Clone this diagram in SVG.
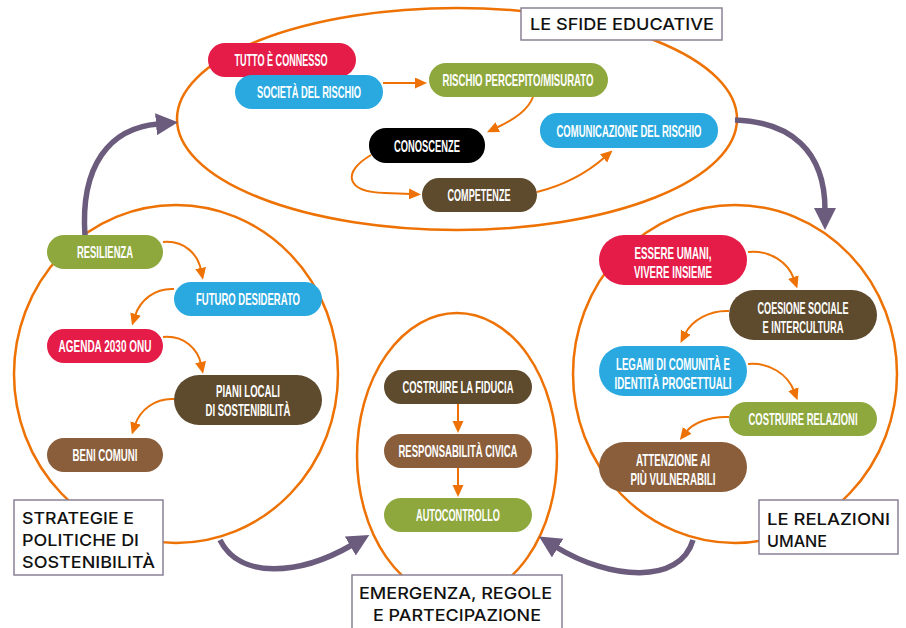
<svg xmlns="http://www.w3.org/2000/svg" width="906" height="628" viewBox="0 0 906 628">
<style>
.ring{fill:none;stroke:#ee7203;stroke-width:2.5}
.oa{fill:none;stroke:#ee7203;stroke-width:2;marker-end:url(#oh)}
.pa{fill:none;stroke:#6b5b7d;stroke-width:5.5;marker-end:url(#ph)}
.nt{font-family:"Liberation Sans",Arial,sans-serif;font-weight:bold;font-size:17px;fill:#fff;text-anchor:middle}
.lb{fill:#fff;stroke:#8b8196;stroke-width:1.5}
.lt{font-family:Inter,"Liberation Sans",Arial,sans-serif;font-size:16.5px;fill:#111;font-weight:500}
.red{fill:#e51b48}.blue{fill:#29a9e0}.green{fill:#8ea83d}.black{fill:#000}.dbr{fill:#5e4a2c}.mbr{fill:#8a5e3b}
</style>
<defs>
<marker id="oh" markerUnits="userSpaceOnUse" markerWidth="14" markerHeight="12" refX="2" refY="5.5" orient="auto"><path d="M0,0 L12,5.5 L0,11 z" fill="#ee7203"/></marker>
<marker id="ph" markerUnits="userSpaceOnUse" markerWidth="24" markerHeight="24" refX="2" refY="11" orient="auto"><path d="M0,0 L22,11 L0,22 z" fill="#6b5b7d"/></marker>
</defs>

<g id="rings">
<ellipse class="ring" cx="457" cy="119" rx="280" ry="111"/>
<ellipse class="ring" cx="176" cy="374" rx="162" ry="169"/>
<ellipse class="ring" cx="735" cy="374" rx="162" ry="169"/>
<ellipse class="ring" cx="457" cy="456" rx="100" ry="143"/>
</g>

<g id="connectors">
<path class="pa" d="M85 236 C80 165 110 128 158 124"/>
<path class="pa" d="M735 120 C790 122 825 150 825 210"/>
<path class="pa" d="M220 540 C240 580 300 575 352 545"/>
<path class="pa" d="M693 540 C680 585 610 580 556 547"/>

<path class="oa" d="M383 83 L417 83"/>
<path class="oa" d="M533 97 C528 110 515 119 496 128"/>
<path class="oa" d="M371 155 C342 172 345 192 385 193 L411 194"/>
<path class="oa" d="M537 192 C565 185 588 172 605 157"/>

<path class="oa" d="M163 242 C185 240 198 255 201 270"/>
<path class="oa" d="M174 289 C155 288 140 300 135 316"/>
<path class="oa" d="M163 337 C185 335 198 350 201 364"/>
<path class="oa" d="M174 399 C155 398 140 410 135 425"/>

<path class="oa" d="M748 252 C770 250 788 262 794 279"/>
<path class="oa" d="M729 311 C710 310 692 320 685 334"/>
<path class="oa" d="M748 364 C770 362 788 375 794 391"/>
<path class="oa" d="M729 417 C710 416 693 423 686 432"/>

<path class="oa" d="M458 404 L458 423"/>
<path class="oa" d="M458 468 L458 487"/>
</g>

<g id="n-tutto"><rect class="red" x="208" y="43" width="148" height="34" rx="17"/><text class="nt" x="281" y="66" textLength="93" lengthAdjust="spacingAndGlyphs">TUTTO È CONNESSO</text></g>
<g id="n-societa"><rect class="blue" x="235" y="75" width="148" height="34" rx="17"/><text class="nt" x="309" y="98" textLength="104" lengthAdjust="spacingAndGlyphs">SOCIETÀ DEL RISCHIO</text></g>
<g id="n-rischio"><rect class="green" x="429" y="63" width="179" height="34" rx="17"/><text class="nt" x="518" y="86" textLength="151" lengthAdjust="spacingAndGlyphs">RISCHIO PERCEPITO/MISURATO</text></g>
<g id="n-conoscenze"><rect class="black" x="369" y="128" width="116" height="35" rx="17"/><text class="nt" x="427" y="152" textLength="66" lengthAdjust="spacingAndGlyphs">CONOSCENZE</text></g>
<g id="n-comunicazione"><rect class="blue" x="540" y="113" width="178" height="35" rx="17"/><text class="nt" x="629" y="137" textLength="145" lengthAdjust="spacingAndGlyphs">COMUNICAZIONE DEL RISCHIO</text></g>
<g id="n-competenze"><rect class="dbr" x="422" y="178" width="115" height="34" rx="17"/><text class="nt" x="479" y="201" textLength="63" lengthAdjust="spacingAndGlyphs">COMPETENZE</text></g>

<g id="n-resilienza"><rect class="green" x="47" y="235" width="116" height="34" rx="17"/><text class="nt" x="105" y="258" textLength="56" lengthAdjust="spacingAndGlyphs">RESILIENZA</text></g>
<g id="n-futuro"><rect class="blue" x="174" y="282" width="148" height="34" rx="17"/><text class="nt" x="248" y="305" textLength="104" lengthAdjust="spacingAndGlyphs">FUTURO DESIDERATO</text></g>
<g id="n-agenda"><rect class="red" x="47" y="329" width="116" height="34" rx="17"/><text class="nt" x="105" y="352" textLength="93" lengthAdjust="spacingAndGlyphs">AGENDA 2030 ONU</text></g>
<g id="n-piani"><rect class="dbr" x="174" y="375" width="148" height="50" rx="25"/><text class="nt" x="248" y="397" textLength="64" lengthAdjust="spacingAndGlyphs">PIANI LOCALI</text><text class="nt" x="248" y="416" textLength="85" lengthAdjust="spacingAndGlyphs">DI SOSTENIBILITÀ</text></g>
<g id="n-beni"><rect class="mbr" x="47" y="438" width="116" height="34" rx="17"/><text class="nt" x="105" y="461" textLength="65" lengthAdjust="spacingAndGlyphs">BENI COMUNI</text></g>

<g id="n-essere"><rect class="red" x="599" y="235" width="148" height="50" rx="25"/><text class="nt" x="673" y="259" textLength="77" lengthAdjust="spacingAndGlyphs">ESSERE UMANI,</text><text class="nt" x="673" y="278" textLength="78" lengthAdjust="spacingAndGlyphs">VIVERE INSIEME</text></g>
<g id="n-coesione"><rect class="dbr" x="729" y="290" width="148" height="50" rx="25"/><text class="nt" x="803" y="314" textLength="91" lengthAdjust="spacingAndGlyphs">COESIONE SOCIALE</text><text class="nt" x="803" y="333" textLength="81" lengthAdjust="spacingAndGlyphs">E INTERCULTURA</text></g>
<g id="n-legami"><rect class="blue" x="599" y="346" width="148" height="50" rx="25"/><text class="nt" x="673" y="370" textLength="114" lengthAdjust="spacingAndGlyphs">LEGAMI DI COMUNITÀ E</text><text class="nt" x="673" y="389" textLength="117" lengthAdjust="spacingAndGlyphs">IDENTITÀ PROGETTUALI</text></g>
<g id="n-costruire-rel"><rect class="green" x="729" y="402" width="148" height="34" rx="17"/><text class="nt" x="803" y="425" textLength="109" lengthAdjust="spacingAndGlyphs">COSTRUIRE RELAZIONI</text></g>
<g id="n-attenzione"><rect class="mbr" x="599" y="442" width="148" height="50" rx="25"/><text class="nt" x="673" y="466" textLength="74" lengthAdjust="spacingAndGlyphs">ATTENZIONE AI</text><text class="nt" x="673" y="485" textLength="85" lengthAdjust="spacingAndGlyphs">PIÙ VULNERABILI</text></g>

<g id="n-fiducia"><rect class="dbr" x="384" y="370" width="148" height="34" rx="17"/><text class="nt" x="458" y="393" textLength="111" lengthAdjust="spacingAndGlyphs">COSTRUIRE LA FIDUCIA</text></g>
<g id="n-responsabilita"><rect class="mbr" x="384" y="434" width="148" height="34" rx="17"/><text class="nt" x="458" y="457" textLength="119" lengthAdjust="spacingAndGlyphs">RESPONSABILITÀ CIVICA</text></g>
<g id="n-autocontrollo"><rect class="green" x="384" y="498" width="148" height="34" rx="17"/><text class="nt" x="458" y="521" textLength="84" lengthAdjust="spacingAndGlyphs">AUTOCONTROLLO</text></g>

<g id="l-sfide"><rect class="lb" x="521" y="8" width="201" height="32"/><text class="lt" x="530" y="30" textLength="184" lengthAdjust="spacingAndGlyphs">LE SFIDE EDUCATIVE</text></g>
<g id="l-strategie"><rect class="lb" x="14" y="500" width="149" height="75"/><text class="lt" x="22" y="524" textLength="112" lengthAdjust="spacingAndGlyphs">STRATEGIE E</text><text class="lt" x="22" y="546" textLength="117" lengthAdjust="spacingAndGlyphs">POLITICHE DI</text><text class="lt" x="22" y="568" textLength="133" lengthAdjust="spacingAndGlyphs">SOSTENIBILITÀ</text></g>
<g id="l-relazioni"><rect class="lb" x="759" y="500" width="139" height="54"/><text class="lt" x="767" y="525" textLength="123" lengthAdjust="spacingAndGlyphs">LE RELAZIONI</text><text class="lt" x="767" y="547" textLength="60" lengthAdjust="spacingAndGlyphs">UMANE</text></g>
<g id="l-emergenza"><rect class="lb" x="352" y="575" width="210" height="60"/><text class="lt" x="359" y="599" textLength="193" lengthAdjust="spacingAndGlyphs">EMERGENZA, REGOLE</text><text class="lt" x="373" y="621" textLength="168" lengthAdjust="spacingAndGlyphs">E PARTECIPAZIONE</text></g>
</svg>
